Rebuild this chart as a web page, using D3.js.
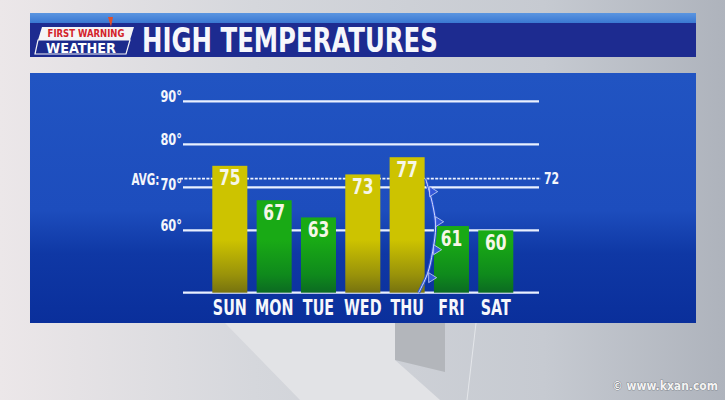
<!DOCTYPE html>
<html>
<head>
<meta charset="utf-8">
<script src="https://cdn.jsdelivr.net/npm/d3@7"></script>
<style>
  html, body { margin: 0; padding: 0; background: #cfd2d8; }
  svg { display: block; }
  text { font-family: "DejaVu Sans Condensed", "DejaVu Sans", sans-serif; font-weight: bold; }
</style>
</head>
<body>
<script>
// chart data
var days = ["SUN", "MON", "TUE", "WED", "THU", "FRI", "SAT"];
var highs = [75, 67, 63, 73, 77, 61, 60];
var gridTicks = [90, 80, 70, 60];
var avgHigh = 72;
var title = "HIGH TEMPERATURES";

var W = 725, H = 400;
var svg = d3.select("body").append("svg").attr("width", W).attr("height", H);
var defs = svg.append("defs");

function grad(id, stops, attrs) {
    var g = defs.append("linearGradient").attr("id", id);
    for (var k in attrs) g.attr(k, attrs[k]);
    stops.forEach(function(s) {
        g.append("stop").attr("offset", s[0]).attr("stop-color", s[1]);
    });
}

grad("bgGrad", [[0, "#ece7e9"], [0.35, "#d5d7dc"], [0.75, "#c6cad1"], [1, "#aeb3bc"]], {x1: 0, y1: 0, x2: 1, y2: 0});
grad("panelGrad", [[0, "#2154c2"], [0.55, "#1d4dbd"], [0.72, "#0f38a5"], [1, "#0a2f9b"]], {x1: 0, y1: 0, x2: 0, y2: 1});
grad("stripGrad", [[0, "#5b95e0"], [1, "#3a78d2"]], {x1: 0, y1: 0, x2: 0, y2: 1});
// bars darken near the baseline
grad("warmGrad", [[0, "#76720f"], [0.35, "#9a930a"], [1, "#cdc300"]], {gradientUnits: "userSpaceOnUse", x1: 0, y1: 293, x2: 0, y2: 240});
grad("coolGrad", [[0, "#0b6a22"], [0.35, "#0f8a1c"], [1, "#19aa15"]], {gradientUnits: "userSpaceOnUse", x1: 0, y1: 293, x2: 0, y2: 240});

// helper: condensed text via horizontal scale
function label(parent, x, y, str, size, anchor, sx, fill) {
    var g = parent.append("g").attr("transform", "translate(" + x + "," + y + ") scale(" + sx + ",1)");
    return g.append("text")
        .attr("text-anchor", anchor)
        .attr("font-size", size)
        .attr("fill", fill || "#f4f6fb")
        .text(str);
}

// background
svg.append("rect").attr("width", W).attr("height", H).attr("fill", "url(#bgGrad)");
svg.append("path").attr("d", "M225,323 L395,323 L395,360 L440,400 L300,400 Z").attr("fill", "#e2e3e6");
svg.append("path").attr("d", "M395,323 L445,323 L445,372 L395,360 Z").attr("fill", "#b3b6bb");
svg.append("path").attr("d", "M476,323 L467,400").attr("stroke", "#e4e6ea").attr("stroke-width", 1);

// header
svg.append("rect").attr("x", 30).attr("y", 13).attr("width", 666).attr("height", 10).attr("fill", "url(#stripGrad)");
svg.append("rect").attr("x", 30).attr("y", 23).attr("width", 666).attr("height", 34).attr("fill", "#1d2b90");

// logo
var logo = svg.append("g");
logo.append("path").attr("d", "M108,17 L113,17 L111,27 Z").attr("fill", "#e0502a");
logo.append("path").attr("d", "M42,27 L134,27 L130,40 L38,40 Z").attr("fill", "#f4f4f6");
logo.append("path").attr("d", "M38,40 L130,40 L126,54 L35,54 Z").attr("fill", "#1b2a8c").attr("stroke", "#f4f4f6").attr("stroke-width", 1.2);
label(logo, 86, 36.5, "FIRST WARNING", 11, "middle", 0.86, "#d3232a");
label(logo, 81, 53, "WEATHER", 14, "middle", 1.02, "#ffffff");

// title
var titleText = label(svg, 142, 52, title, 34, "start", 1, "#f6f7fb");
var tl = titleText.node().getComputedTextLength();
d3.select(titleText.node().parentNode).attr("transform", "translate(142,52) scale(" + (296 / tl) + ",1)");

// panel
svg.append("rect").attr("x", 30).attr("y", 73).attr("width", 666).attr("height", 250).attr("fill", "url(#panelGrad)");

// scales
var y = d3.scaleLinear().domain([45.5, 90]).range([292.7, 101.3]);
var x = d3.scaleBand().domain(days).range([207.65, 517.95]).paddingInner(0.21).paddingOuter(0.105);
var gx0 = 183, gx1 = 539;

var chart = svg.append("g");

// grid lines (and baseline)
chart.selectAll("line.grid")
    .data(gridTicks.concat([y.domain()[0]]))
    .enter().append("line")
    .attr("class", "grid")
    .attr("x1", gx0).attr("x2", gx1)
    .attr("y1", function(d) { return y(d); })
    .attr("y2", function(d) { return y(d); })
    .attr("stroke", "#e9f0ff")
    .attr("stroke-width", 2.2);

// tick labels
gridTicks.forEach(function(t) {
    label(chart, gx0 - 1, y(t) + (t === 70 ? 3 : 1), t + "°", 15.5, "end", 0.82);
});

// average line
chart.append("line")
    .attr("x1", gx0 - 3).attr("x2", gx1 + 2)
    .attr("y1", y(avgHigh)).attr("y2", y(avgHigh))
    .attr("stroke", "#eef3ff")
    .attr("stroke-width", 1.8)
    .attr("stroke-dasharray", "3,1.4");
label(chart, 159.5, y(avgHigh) + 6, "AVG:", 16, "end", 0.72);
label(chart, gx1 + 5, y(avgHigh) + 5.5, avgHigh, 15.5, "start", 0.78);

// bars
chart.selectAll("rect.bar")
    .data(highs)
    .enter().append("rect")
    .attr("class", "bar")
    .attr("x", function(d, i) { return x(days[i]); })
    .attr("width", x.bandwidth())
    .attr("y", function(d) { return y(d); })
    .attr("height", function(d) { return y(y.domain()[0]) - y(d); })
    .attr("fill", function(d) { return d >= 70 ? "url(#warmGrad)" : "url(#coolGrad)"; });

// value labels
highs.forEach(function(d, i) {
    label(chart, x(days[i]) + x.bandwidth() / 2, y(d) + 19.5, d, 21, "middle", 0.82, "#f6f6e8");
});

// day labels
days.forEach(function(d) {
    label(chart, x(d) + x.bandwidth() / 2, 315, d, 21, "middle", 0.76, "#f6f7fb");
});

// cold front between THU and FRI
var fx = x("THU") + x.bandwidth();
var frontPts = [[fx + 1, y(avgHigh)], [fx + 8, y(66)], [fx + 11, y(61)], [fx + 8, y(55)], [fx + 3, y(50)], [fx - 6, y(45.5)]];
var frontLine = d3.line().curve(d3.curveCatmullRom);
chart.append("path").attr("d", frontLine(frontPts)).attr("fill", "none").attr("stroke", "#2f55d6").attr("stroke-width", 3);
chart.append("path").attr("d", frontLine(frontPts)).attr("fill", "none").attr("stroke", "#e8eeff").attr("stroke-width", 0.9);
[[fx + 5, y(69)], [fx + 11, y(62)], [fx + 9, y(55.5)], [fx + 4, y(49)]].forEach(function(p) {
    chart.append("path")
        .attr("d", "M" + p[0] + "," + (p[1] - 5) + " L" + (p[0] + 8) + "," + p[1] + " L" + p[0] + "," + (p[1] + 5) + " Z")
        .attr("fill", "#3457d8").attr("stroke", "#dfe7ff").attr("stroke-width", 0.7);
});

// watermark
svg.append("text")
    .attr("x", 718).attr("y", 390)
    .attr("text-anchor", "end")
    .attr("font-size", 12)
    .attr("font-weight", "normal")
    .attr("fill", "#f3f3f3")
    .attr("stroke", "#5a5e66").attr("stroke-width", 0.6).attr("paint-order", "stroke")
    .text("© www.kxan.com");
</script>
</body>
</html>
